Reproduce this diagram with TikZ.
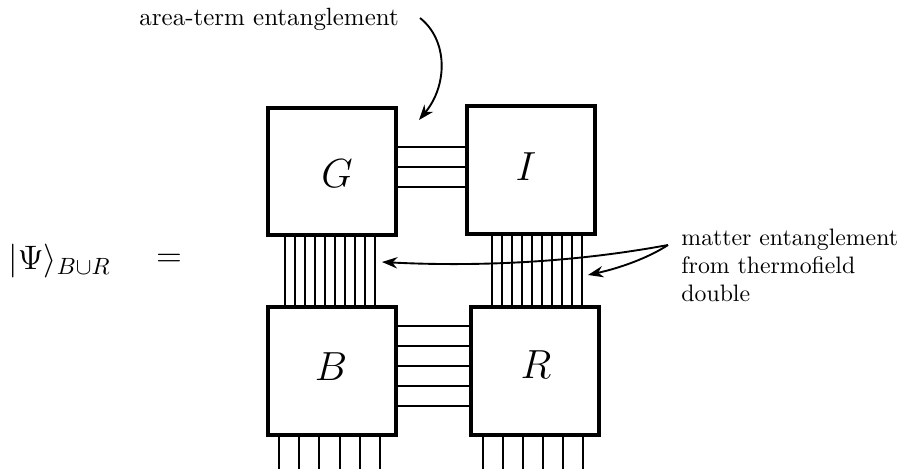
\documentclass[tikz,border=0pt]{standalone}
\usetikzlibrary{arrows.meta}
\begin{document}
\begin{tikzpicture}[x=0.425pt,y=-0.425pt,
  tnbox/.style={draw,line width=1.7pt,minimum width=54.4pt,minimum height=54.2pt,inner sep=0pt},
  boxlabel/.style={font=\LARGE,inner sep=0pt},
  note/.style={font=\fontsize{10.6}{12}\selectfont,inner sep=0pt},
  sidenote/.style={font=\fontsize{10.1}{11.9}\selectfont,inner sep=0pt},
  leg/.style={line width=0.8pt},
  pointer/.style={line width=0.8pt,-{Stealth[length=6.5pt,width=4.8pt]}}]
\useasboundingbox (0,0) rectangle (901,468);
% boxes
\node[tnbox] (G) at (332,171.5) {};
\node[tnbox] (I) at (530.5,170) {};
\node[tnbox] (B) at (332,371) {};
\node[tnbox] (R) at (534.5,371) {};
\node[boxlabel] (Gl) at (337,174) {$G$};
\node[boxlabel] (Il) at (526,167) {$I$};
\node[boxlabel] (Bl) at (331,367) {$B$};
\node[boxlabel] (Rl) at (536,365) {$R$};
% horizontal legs
\foreach \y in {147,167,187} \draw[leg] (G.east |- 0,\y) -- (I.west |- 0,\y);
\foreach \y in {326,346,366,386,406} \draw[leg] (B.east |- 0,\y) -- (R.west |- 0,\y);
% vertical legs
\foreach \x in {285,295,...,375} \draw[leg] (G.south -| \x,0) -- (B.north -| \x,0);
\foreach \x in {492,502,...,582} \draw[leg] (I.south -| \x,0) -- (R.north -| \x,0);
% open legs
\foreach \x in {279,299.2,319.4,339.6,359.8,380} \draw[leg] (B.south -| \x,0) -- ++(0,34);
\foreach \x in {483,503,523,543,563,583} \draw[leg] (R.south -| \x,0) -- ++(0,34);
% state
\node[font=\Large,anchor=base west,inner sep=0pt] (psi) at (8,269.5) {$|\Psi\rangle_{B\cup R}$};
\node[font=\Large,inner sep=0pt] (eq) at (169,260) {$=$};
% labels
\node[note,anchor=base west] (area) at (139,25) {area-term entanglement};
\node[sidenote,anchor=north west,align=left] (matter) at (681,229) {matter entanglement\\from thermofield\\double};
% arrows
\coordinate (aS) at (420,18);
\coordinate (aT) at (419,120);
\draw[pointer] (aS) .. controls (448,40) and (448,85) .. (aT);
\coordinate (mS) at (668,245);
\coordinate (m1) at (382,262);
\coordinate (m2) at (588,275);
\draw[pointer] (mS) .. controls (560,265) and (460,266) .. (m1);
\draw[pointer] (mS) .. controls (648,258) and (620,268) .. (m2);
\end{tikzpicture}
\end{document}
